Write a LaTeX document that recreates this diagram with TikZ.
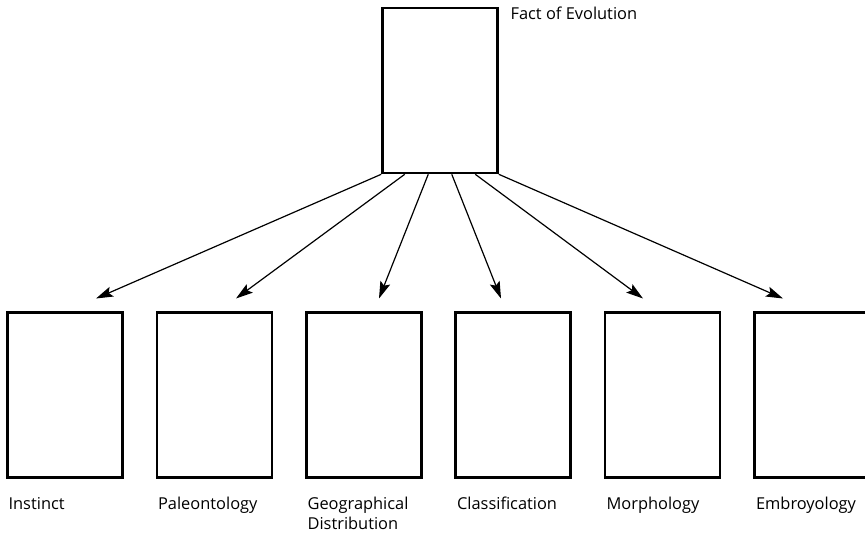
\documentclass[tikz,border=0pt]{standalone}
\usepackage{fontspec}
\setmainfont{Open Sans}
\usetikzlibrary{positioning,arrows.meta,calc}

\begin{document}
\begin{tikzpicture}[
    x=0.5pt,
    y=-0.5pt,
    ->,
    >={Stealth[length=8.5pt,width=5.2pt,inset=1.6pt]},
    line width=0.6pt
]

\tikzstyle{panel}=[
    rectangle,
    draw,
    -,
    line width=1.3pt,
    minimum width=57.5pt,
    minimum height=82.5pt,
    inner sep=0pt
]
\tikzstyle{caption}=[
    anchor=base west,
    inner sep=0pt,
    align=left,
    font=\fontsize{8.2pt}{10pt}\selectfont
]

\useasboundingbox (0,0) rectangle (865,534);

\node[panel] (e) at (440,90.5) {};
\node[caption] at (510,20) {Fact of Evolution};

\node[panel] (e1) at (65,395) {};
\node[panel] (e2) at (214.5,395) {};
\node[panel] (e3) at (364,395) {};
\node[panel] (e4) at (513,395) {};
\node[panel] (e5) at (662.5,395) {};
\node[panel] (e6) at (812,395) {};

% captions sit on their last baseline
\node[caption] at (8,509) {Instinct};
\node[caption] at (157.5,509) {Paleontology};
\node[caption] at (307,529) {Geographical\\Distribution};
\node[caption] at (456.5,509) {Classification};
\node[caption] at (606,509) {Morphology};
\node[caption] at (755.5,509) {Embroyology};

\coordinate (t1) at (96,298.5);
\coordinate (t2) at (236,298.5);
\coordinate (t3) at (379,298.5);
\coordinate (t4) at (501,298.5);
\coordinate (t5) at (643,298.5);
\coordinate (t6) at (783,298.5);

\draw (e.south west) -- (t1);
\draw ($(e.south west)!0.2!(e.south east)$) -- (t2);
\draw ($(e.south west)!0.4!(e.south east)$) -- (t3);
\draw ($(e.south west)!0.6!(e.south east)$) -- (t4);
\draw ($(e.south west)!0.8!(e.south east)$) -- (t5);
\draw (e.south east) -- (t6);

\end{tikzpicture}
\end{document}
